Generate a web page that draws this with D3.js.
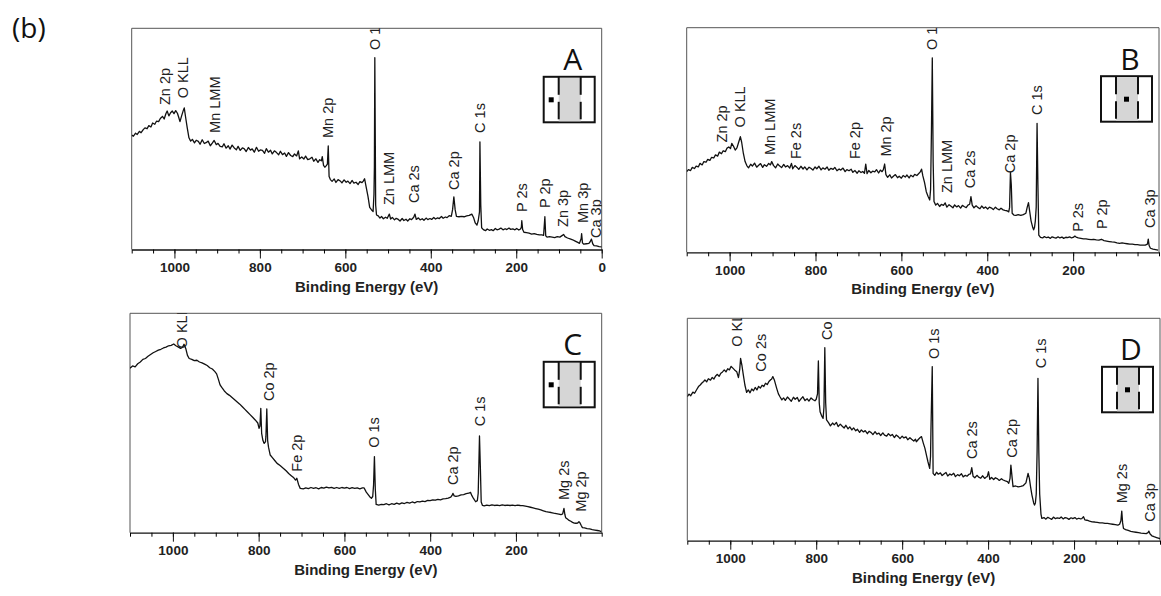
<!DOCTYPE html>
<html>
<head>
<meta charset="utf-8">
<script src="https://cdn.jsdelivr.net/npm/d3@7"></script>
<style>
  body { margin: 0; background: #fff; }
  text { font-family: "Liberation Sans", Arial, sans-serif; }
</style>
</head>
<body>
<svg id="chart" width="1161" height="596"></svg>
<script>
// survey spectra, [binding energy eV, intensity as % of plot height]
const spectrumA = [[1100,51.7],[1096,51.2],[1091,52.6],[1087,52.0],[1082,53.4],[1078,52.8],[1073,54.2],[1069,55.0],[1064,54.6],[1060,56.0],[1055,55.4],[1051,57.2],[1046,56.6],[1042,58.0],[1037,57.8],[1033,59.2],[1028,60.2],[1024,59.0],[1020,61.4],[1017,62.6],[1013,60.4],[1009,61.8],[1005,62.6],[1001,61.4],[997,62.8],[993,61.6],[990,59.8],[987,57.8],[983,60.5],[979,63.0],[977,64.0],[974,60.0],[970,55.0],[966,50.5],[962,49.0],[958,49.8],[953,48.2],[949,49.4],[944,48.9],[940,47.6],[935,49.6],[930,47.9],[926,48.3],[921,49.0],[916,46.9],[911,48.2],[907,49.3],[902,47.4],[898,48.0],[893,46.6],[888,46.4],[884,47.8],[879,45.8],[874,46.9],[870,45.4],[865,47.2],[860,45.9],[855,45.1],[851,46.6],[846,44.8],[841,45.9],[837,45.6],[832,44.3],[827,46.1],[822,44.9],[818,45.5],[813,44.0],[808,46.2],[803,44.4],[799,45.0],[794,44.8],[789,43.5],[785,45.6],[780,44.0],[775,44.9],[771,43.2],[766,44.6],[761,43.8],[756,42.8],[752,44.4],[747,42.9],[742,43.6],[738,42.1],[733,43.8],[728,42.5],[723,42.0],[719,43.2],[714,42.3],[710,44.6],[707,41.0],[702,41.8],[697,40.9],[693,42.2],[688,40.6],[683,41.0],[678,41.7],[674,39.9],[669,41.0],[664,39.4],[660,40.6],[656,40.1],[654,42.0],[651,38.0],[648,37.2],[645,37.8],[642,38.6],[640,46.8],[638,33.0],[635,31.6],[631,30.8],[626,31.9],[622,30.3],[617,31.6],[612,31.0],[608,30.1],[603,31.5],[598,30.4],[594,30.9],[589,29.8],[584,31.2],[580,30.0],[575,30.4],[570,29.4],[566,30.7],[561,30.2],[558,30.9],[555,32.0],[551,28.0],[547,24.0],[543,19.0],[539,18.0],[535,17.2],[533,25.0],[532,37.4],[531,86.7],[529,20.0],[527,15.6],[523,15.2],[519,14.2],[515,14.9],[511,13.9],[506,14.6],[502,14.1],[497,16.0],[494,13.8],[490,14.5],[485,13.4],[481,14.1],[476,13.6],[472,12.9],[467,14.0],[463,13.1],[458,13.7],[454,12.9],[449,13.9],[445,13.5],[440,14.6],[437,16.0],[434,13.6],[429,14.3],[425,13.4],[420,13.9],[416,13.2],[411,14.2],[407,13.5],[402,14.0],[398,13.6],[393,14.5],[389,13.8],[384,14.3],[380,14.0],[375,14.9],[371,14.1],[366,14.7],[362,14.4],[357,15.3],[352,15.0],[349,18.0],[346,23.8],[343,18.0],[340,15.0],[334,14.8],[328,15.0],[322,14.8],[316,15.2],[310,15.4],[304,16.0],[300,14.5],[296,12.0],[292,11.0],[289,13.0],[286,17.0],[285,48.7],[283,20.0],[281,9.8],[277,9.0],[272,8.5],[268,9.3],[263,8.7],[258,9.0],[254,8.5],[249,9.5],[245,8.9],[240,9.2],[236,9.7],[231,8.9],[226,9.4],[222,9.0],[217,9.7],[213,9.1],[208,9.3],[203,8.9],[199,9.5],[194,8.8],[190,9.3],[188,10.0],[187,13.0],[185,9.0],[182,7.8],[176,7.6],[170,7.4],[164,7.0],[158,7.2],[152,6.8],[146,6.6],[140,6.6],[136,6.4],[133,14.8],[131,6.2],[128,5.6],[122,5.8],[116,5.6],[110,5.4],[104,5.8],[98,5.6],[92,6.4],[89,6.8],[86,5.8],[80,5.2],[74,4.8],[68,4.4],[62,3.8],[56,3.2],[52,2.8],[48,5.0],[47,7.2],[45,3.0],[42,2.4],[36,2.6],[30,2.8],[27,3.5],[24,4.7],[21,2.6],[18,1.8],[12,1.6],[6,1.3],[0,1.2]];

const spectrumB = [[1100,35.9],[1096,36.8],[1091,36.4],[1087,37.8],[1082,37.3],[1078,38.4],[1073,38.0],[1069,39.6],[1064,38.9],[1060,40.4],[1055,40.1],[1051,41.4],[1046,40.9],[1042,42.3],[1037,42.0],[1033,43.4],[1028,42.8],[1024,44.6],[1019,43.9],[1015,45.2],[1010,44.8],[1006,46.4],[1002,46.9],[998,46.2],[995,48.5],[991,47.2],[987,45.5],[983,46.5],[979,49.0],[975,51.5],[972,49.0],[968,44.0],[964,40.4],[960,38.6],[956,37.6],[951,39.2],[947,38.4],[942,39.7],[937,37.9],[933,38.6],[928,39.5],[923,37.8],[919,39.0],[914,38.3],[909,39.6],[905,38.9],[902,40.4],[898,38.7],[893,37.6],[888,39.3],[884,38.5],[879,37.7],[874,39.1],[870,38.0],[865,38.6],[860,37.5],[856,39.6],[853,37.2],[848,38.6],[843,37.8],[839,36.9],[834,38.3],[829,37.1],[825,38.0],[820,36.7],[815,37.9],[811,37.4],[806,36.6],[801,38.0],[797,37.2],[792,38.3],[787,36.7],[783,37.6],[778,37.0],[773,38.0],[769,36.5],[764,37.4],[759,36.9],[755,37.8],[750,36.3],[745,37.1],[741,36.6],[736,37.5],[731,35.9],[727,36.8],[722,36.3],[717,37.0],[713,35.6],[708,36.4],[703,35.2],[699,36.3],[694,35.5],[690,36.0],[686,35.2],[683,39.3],[680,35.0],[676,36.4],[671,35.4],[667,36.1],[662,35.8],[658,36.8],[653,35.3],[649,36.6],[645,35.9],[642,36.8],[639,39.3],[636,34.6],[632,33.4],[627,34.5],[623,33.1],[618,34.0],[614,34.6],[609,33.2],[605,33.9],[600,33.0],[596,34.2],[591,33.5],[587,34.4],[582,33.1],[578,34.3],[573,33.6],[569,34.7],[564,34.2],[560,35.0],[556,35.8],[553,37.0],[550,34.0],[546,31.0],[542,27.0],[538,25.0],[534,23.3],[532,28.0],[530,53.7],[528,86.6],[526,40.0],[524,22.6],[520,21.0],[516,21.8],[511,20.4],[507,21.3],[502,20.9],[498,22.0],[494,20.1],[489,21.2],[485,20.6],[480,19.8],[476,21.1],[471,20.2],[467,20.8],[462,19.7],[458,20.9],[453,20.3],[449,19.9],[445,21.0],[441,21.4],[438,24.8],[435,21.0],[431,19.8],[426,20.7],[422,20.0],[417,19.4],[413,20.6],[408,19.6],[404,20.2],[399,19.3],[395,20.1],[390,19.7],[386,19.0],[381,20.1],[377,19.4],[372,18.9],[368,19.6],[363,18.9],[359,18.7],[354,18.5],[350,18.0],[348,20.0],[346,35.6],[344,30.0],[342,17.4],[338,16.6],[333,16.4],[328,16.8],[322,16.4],[316,16.8],[310,17.4],[307,20.0],[304,22.1],[301,18.0],[298,14.0],[294,11.0],[292,10.0],[290,11.0],[288,14.0],[286,20.0],[284,57.4],[282,30.0],[280,7.7],[276,6.6],[271,6.4],[267,7.0],[262,6.5],[258,6.8],[253,6.2],[249,6.9],[244,6.5],[240,6.3],[235,6.9],[231,6.4],[226,6.8],[222,6.2],[217,6.7],[213,6.5],[208,6.9],[204,6.4],[200,6.6],[196,7.2],[193,6.8],[188,6.4],[182,6.2],[176,6.0],[170,6.0],[164,5.8],[158,5.6],[152,5.8],[146,5.5],[140,5.4],[134,5.8],[128,5.2],[122,5.0],[116,4.8],[110,4.6],[104,4.5],[98,4.2],[92,4.0],[86,4.2],[80,4.0],[74,3.8],[68,3.6],[62,3.6],[56,3.4],[50,3.4],[44,3.2],[38,3.2],[32,3.2],[27,3.6],[25,5.9],[23,3.0],[20,1.8],[14,1.4],[8,1.2],[2,1.0]];

const spectrumC = [[1100,75.0],[1094,76.0],[1088,75.6],[1082,77.0],[1076,77.8],[1070,79.0],[1064,79.4],[1058,80.4],[1052,81.2],[1046,82.0],[1040,82.6],[1034,83.2],[1028,83.6],[1022,84.2],[1016,84.6],[1010,85.2],[1004,85.4],[998,86.0],[993,85.2],[987,84.6],[982,84.0],[978,84.4],[974,85.9],[970,84.0],[966,80.8],[962,79.4],[956,79.0],[950,78.4],[944,78.6],[938,77.8],[932,77.4],[926,76.8],[920,76.2],[914,75.2],[908,74.6],[902,73.4],[898,72.4],[894,70.0],[890,67.4],[886,66.2],[880,64.6],[874,63.4],[868,62.6],[862,61.6],[856,60.6],[850,59.6],[844,58.6],[838,57.4],[832,56.2],[826,55.0],[820,53.8],[814,52.6],[808,51.4],[802,50.0],[799,47.6],[797,48.6],[795,56.7],[793,45.3],[790,42.0],[787,40.7],[784,41.5],[783,44.0],[781,56.4],[779,42.0],[777,39.0],[773,35.4],[768,34.2],[762,32.8],[757,31.6],[750,30.6],[742,29.3],[736,28.2],[730,27.0],[724,26.0],[718,25.0],[714,24.0],[711,24.8],[707,22.0],[703,20.2],[696,20.0],[690,20.4],[684,20.1],[678,20.6],[672,20.2],[666,20.5],[660,20.0],[654,20.6],[648,20.3],[642,20.8],[636,20.4],[630,20.7],[624,20.2],[618,20.6],[612,20.2],[606,20.6],[600,20.3],[594,20.6],[588,20.1],[582,20.5],[576,20.2],[570,20.4],[564,20.0],[558,20.4],[554,20.4],[549,18.5],[545,17.5],[541,16.4],[537,15.7],[534,16.5],[532,21.7],[530,34.7],[528,20.0],[526,12.9],[520,12.6],[514,12.9],[508,12.8],[502,13.2],[496,12.7],[490,13.2],[484,12.9],[478,13.5],[472,13.0],[466,13.6],[460,13.3],[454,13.8],[448,13.5],[442,14.0],[436,13.6],[430,14.2],[424,14.0],[418,14.4],[412,14.2],[406,14.7],[400,14.6],[394,15.0],[388,14.8],[382,15.2],[376,15.0],[370,15.4],[364,15.5],[358,15.8],[352,16.2],[349,17.0],[347,17.9],[344,16.8],[340,16.6],[334,16.8],[328,17.2],[322,17.4],[316,17.8],[310,18.0],[306,18.4],[303,17.0],[299,15.6],[294,14.1],[290,14.6],[288,18.0],[287,26.3],[285,44.1],[283,30.0],[281,14.0],[278,12.4],[274,12.2],[268,12.6],[262,12.3],[256,12.7],[250,12.4],[244,12.6],[238,12.3],[232,12.7],[226,12.4],[220,12.6],[214,12.4],[208,12.6],[202,12.3],[196,12.6],[190,12.4],[184,12.3],[178,12.1],[172,11.9],[166,11.6],[160,11.3],[154,11.0],[148,10.7],[142,10.4],[136,10.0],[130,9.6],[124,9.4],[118,9.2],[112,8.9],[106,8.7],[100,8.5],[95,8.2],[91,8.6],[88,11.1],[86,8.4],[84,6.8],[80,6.2],[76,5.6],[72,5.2],[68,4.7],[64,4.4],[60,4.3],[56,4.4],[53,5.0],[51,4.6],[48,3.4],[45,2.3],[40,2.2],[34,1.9],[28,1.7],[22,1.4],[16,1.2],[10,1.0],[5,0.8],[1,0.5]];

const spectrumD = [[1100,64.8],[1096,65.9],[1092,65.2],[1087,66.8],[1083,66.3],[1078,68.0],[1074,69.3],[1070,70.0],[1066,70.9],[1062,71.6],[1059,72.3],[1055,71.4],[1051,72.8],[1046,72.2],[1042,73.4],[1038,72.7],[1034,74.1],[1030,74.8],[1026,73.9],[1022,75.3],[1018,75.9],[1014,76.8],[1010,75.9],[1006,77.3],[1002,76.8],[998,78.4],[994,77.6],[990,76.8],[985,76.0],[981,73.3],[978,77.0],[976,82.0],[973,79.0],[970,75.0],[966,70.0],[962,66.7],[958,67.8],[954,66.5],[950,68.2],[946,67.4],[942,68.9],[938,67.8],[934,69.4],[930,68.6],[926,69.9],[922,69.3],[918,70.8],[914,70.2],[910,71.6],[906,72.4],[904,72.6],[901,73.8],[897,72.0],[892,68.5],[888,66.0],[884,64.6],[880,63.3],[876,64.2],[872,63.1],[867,64.6],[863,63.8],[858,62.7],[853,64.5],[849,63.6],[844,64.4],[840,62.6],[835,63.9],[831,64.7],[826,63.0],[821,63.8],[817,62.8],[812,64.2],[808,63.5],[803,62.9],[800,63.6],[797,66.0],[795,80.8],[793,62.0],[791,58.0],[787,56.0],[784,55.0],[782,60.0],[780,86.8],[778,62.0],[776,54.3],[771,53.0],[767,51.6],[762,52.9],[758,52.1],[753,53.2],[749,51.3],[744,52.4],[740,51.6],[735,50.7],[731,51.9],[726,50.3],[722,51.2],[717,49.8],[713,50.7],[708,49.4],[704,50.1],[699,48.7],[695,49.8],[690,48.9],[686,49.5],[681,48.1],[677,49.2],[672,48.6],[668,47.7],[663,49.0],[659,47.9],[654,48.4],[650,47.3],[645,48.5],[641,47.5],[636,47.0],[632,48.1],[627,47.2],[623,47.8],[618,46.4],[614,47.5],[609,46.8],[605,45.9],[600,47.0],[596,46.2],[591,46.7],[587,45.4],[582,46.3],[578,45.6],[573,44.8],[569,45.6],[567,44.5],[562,45.6],[558,46.4],[555,46.8],[551,44.0],[547,41.5],[543,38.0],[540,35.5],[536,32.5],[534,38.0],[533,49.8],[530,78.3],[528,30.3],[524,29.4],[520,30.8],[516,29.9],[511,30.5],[507,29.3],[502,30.1],[498,30.7],[494,29.1],[489,30.0],[485,29.5],[480,30.3],[476,28.8],[471,29.7],[467,29.2],[462,30.1],[458,28.7],[453,29.4],[449,29.0],[445,29.8],[441,30.0],[438,32.8],[435,29.0],[431,28.3],[426,29.4],[422,28.6],[417,28.1],[413,29.2],[408,28.0],[404,28.7],[402,28.8],[399,31.0],[396,27.6],[392,28.4],[387,27.5],[383,28.3],[378,27.8],[374,27.1],[369,27.9],[365,27.3],[360,26.9],[355,26.6],[352,25.8],[349,28.0],[347,34.0],[344,28.0],[342,24.3],[336,24.6],[330,24.2],[324,24.4],[318,24.8],[312,26.0],[307,30.3],[304,28.0],[301,24.0],[298,20.5],[294,17.0],[292,16.0],[290,17.0],[288,21.0],[286,40.0],[284,73.0],[282,40.0],[280,21.0],[277,12.0],[275,10.0],[270,10.4],[266,9.7],[261,10.5],[257,10.1],[252,9.6],[248,10.6],[243,9.9],[239,10.3],[234,10.0],[230,10.7],[225,9.8],[221,10.4],[216,10.1],[212,9.6],[207,10.3],[203,9.9],[198,10.4],[194,9.7],[189,10.1],[185,9.8],[182,9.9],[178,10.8],[175,9.4],[170,9.2],[164,8.8],[158,8.5],[152,8.4],[146,8.2],[140,8.0],[134,8.0],[128,7.8],[122,7.8],[116,7.6],[110,7.4],[104,7.2],[98,7.0],[94,7.4],[91,9.0],[89,13.3],[87,8.0],[85,5.5],[80,5.0],[74,4.6],[68,4.2],[62,4.0],[56,3.8],[50,3.6],[44,3.4],[38,3.3],[32,3.2],[28,3.6],[26,4.3],[23,3.0],[19,2.2],[14,1.8],[8,1.4],[2,1.0],[0,1.0]];

// peak labels: [text, eV, intensity where the label starts]
const peaksA = [["Zn 2p",1022,65.3],["O KLL",979,68.4],["Mn LMM",905,52.7],["Mn 2p",640,50.4],["O 1s",530,90.2],["Zn LMM",497,20.1],["Ca 2s",439,21.0],["Ca 2p",347,26.9],["C 1s",285,52.7],["P 2s",187,17.0],["P 2p",132,18.8],["Zn 3p",90,10.2],["Mn 3p",45,12.0],["Ca 3p",13,5.2]];
const peaksB = [["Zn 2p",1018,48.9],["O KLL",977,55.6],["Mn LMM",906,43.3],["Fe 2s",846,41.5],["Fe 2p",709,41.5],["Mn 2p",637,42.6],["O 1s",529,90.1],["Zn LMM",494,26.4],["Ca 2s",440,28.5],["Ca 2p",347,35.2],["C 1s",285,61.1],["P 2s",188,9.2],["P 2p",133,10.4],["Ca 3p",21,10.8]];
const peaksC = [["O KLL",980,84.0],["Co 2p",776,60.0],["Fe 2p",710,27.8],["O 1s",531,38.7],["Ca 2p",346,21.7],["C 1s",284,48.5],["Mg 2s",88,14.9],["Mg 2p",49,9.6]];
const peaksD = [["O KLL",985,87.2],["Co 2s",929,76.0],["Co 2p",776,90.2],["O 1s",527,81.7],["Ca 2s",438,36.7],["Ca 2p",345,37.3],["C 1s",278,77.5],["Mg 2s",89,16.8],["Ca 3p",23,8.5]];

const panelLetters = ["A", "B", "C", "D"];
const ticksWithZero = [1000, 800, 600, 400, 200, 0];
const ticksNoZero = [1000, 800, 600, 400, 200];
const axisTitle = "Binding Energy (eV)";
const figureTag = "(b)";

const svg = d3.select("#chart");
svg.append("text").attr("x", 12).attr("y", 38)
  .style("font-family", "'Open Sans', sans-serif").style("font-size", "28px")
  .attr("fill", "#111").text(figureTag);

const panels = [
  { letter: panelLetters[0], data: spectrumA, peaks: peaksA, ticks: ticksWithZero, x0: 131.7, x1: 601.7, y0: 28.3, y1: 249.5, dot: "side" },
  { letter: panelLetters[1], data: spectrumB, peaks: peaksB, ticks: ticksNoZero, x0: 686.7, x1: 1159, y0: 27.7, y1: 252.3, dot: "mid" },
  { letter: panelLetters[2], data: spectrumC, peaks: peaksC, ticks: ticksNoZero, x0: 130, x1: 601.7, y0: 313.3, y1: 532.7, dot: "side" },
  { letter: panelLetters[3], data: spectrumD, peaks: peaksD, ticks: ticksNoZero, x0: 687.3, x1: 1160, y0: 318.3, y1: 540.7, dot: "mid" }
];

panels.forEach(function (p, i) {
  const x = d3.scaleLinear().domain([1100, 0]).range([p.x0, p.x1]);
  const y = d3.scaleLinear().domain([0, 100]).range([p.y1, p.y0]);
  const g = svg.append("g");

  g.append("clipPath").attr("id", "clip" + i)
    .append("rect").attr("x", p.x0).attr("y", p.y0)
    .attr("width", p.x1 - p.x0).attr("height", p.y1 - p.y0);

  // left, top, right sides of the frame
  g.append("path")
    .attr("d", `M${p.x0},${p.y1}V${p.y0}H${p.x1}V${p.y1}`)
    .attr("fill", "none").attr("stroke", "#555").attr("stroke-width", 1);

  // minor ticks every 50 eV, then labelled ticks
  g.append("g").attr("transform", `translate(0,${p.y1})`)
    .call(d3.axisBottom(x).tickValues(d3.range(0, 1101, 50)).tickSize(4).tickSizeOuter(0).tickFormat(""))
    .call(a => a.select(".domain").attr("stroke", "#111").attr("stroke-width", 1.3));
  const major = g.append("g").attr("transform", `translate(0,${p.y1})`)
    .call(d3.axisBottom(x).tickValues(p.ticks).tickSize(9).tickSizeOuter(0).tickFormat(d3.format("d")));
  major.select(".domain").remove();
  major.selectAll(".tick line").attr("stroke", "#111");
  major.selectAll(".tick text")
    .attr("y", 22.5).attr("dy", null)
    .style("font-family", "'Liberation Sans', Arial, sans-serif")
    .style("font-size", "13.5px").style("font-weight", "bold").attr("fill", "#222");

  g.append("text")
    .attr("x", (p.x0 + p.x1) / 2).attr("y", p.y1 + 42)
    .attr("text-anchor", "middle")
    .style("font-size", "15px").style("font-weight", "bold").attr("fill", "#222")
    .text(axisTitle);

  const plot = g.append("g").attr("clip-path", `url(#clip${i})`);

  plot.append("path")
    .datum(p.data)
    .attr("d", d3.line().x(d => x(d[0])).y(d => y(d[1])))
    .attr("fill", "none").attr("stroke", "#111").attr("stroke-width", 1.3)
    .attr("stroke-linejoin", "round");

  plot.selectAll("text.peak").data(p.peaks).enter()
    .append("text").attr("class", "peak")
    .attr("transform", d => `translate(${x(d[1])},${y(d[2])}) rotate(-90)`)
    .attr("dy", "0.35em")
    .style("font-size", "14.5px").attr("fill", "#222")
    .text(d => d[0]);

  // sample sketch inset
  const bx = p.x1 - 58, by = p.y0 + 48.5, bw = 51, bh = 45.5;
  const ins = g.append("g");
  ins.append("rect").attr("x", bx).attr("y", by).attr("width", bw).attr("height", bh)
    .attr("fill", "#fff").attr("stroke", "#111").attr("stroke-width", 2);
  ins.append("rect").attr("x", bx + 15).attr("y", by + 1).attr("width", 22).attr("height", bh - 2)
    .attr("fill", "#d6d6d6");
  [bx + 15, bx + 37].forEach(function (lx) {
    ins.append("line").attr("x1", lx).attr("x2", lx).attr("y1", by).attr("y2", by + 18)
      .attr("stroke", "#111").attr("stroke-width", 2);
    ins.append("line").attr("x1", lx).attr("x2", lx).attr("y1", by + 25).attr("y2", by + bh - 3)
      .attr("stroke", "#111").attr("stroke-width", 2);
  });
  const dotX = p.dot === "side" ? bx + 7.5 : bx + 25.5;
  ins.append("rect").attr("x", dotX - 2.5).attr("y", by + 20.5).attr("width", 5).attr("height", 5)
    .attr("fill", "#000");
  ins.append("text").attr("x", bx + 29).attr("y", by - 6.5)
    .attr("text-anchor", "middle")
    .style("font-family", "'Open Sans', sans-serif").style("font-size", "30px")
    .attr("fill", "#111").text(p.letter);
});
</script>
</body>
</html>
